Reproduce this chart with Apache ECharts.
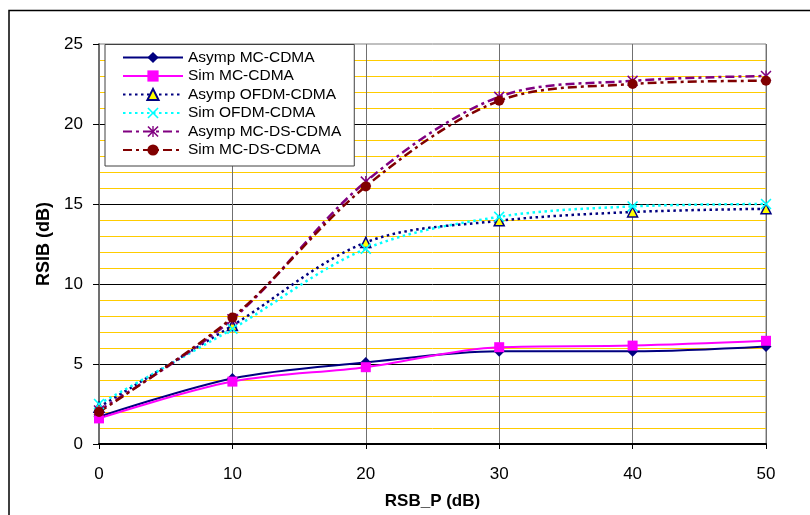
<!DOCTYPE html>
<html><head><meta charset="utf-8">
<script src="https://cdn.jsdelivr.net/npm/echarts@6/dist/echarts.min.js"></script>
<style>html,body{margin:0;padding:0;background:#fff}#c{width:810px;height:515px}</style>
</head><body><div id="c"></div>
<script>
const xValues = [0, 10, 20, 30, 40, 50];
const xTickLabels = ['0', '10', '20', '30', '40', '50'];
const yTickLabels = ['0', '5', '10', '15', '20', '25'];
const seriesNames = ['Asymp MC-CDMA', 'Sim MC-CDMA', 'Asymp OFDM-CDMA', 'Sim OFDM-CDMA', 'Asymp MC-DS-CDMA', 'Sim MC-DS-CDMA'];
const asympMC = [1.7, 4.1, 5.1, 5.8, 5.8, 6.1];
const simMC = [1.6, 3.9, 4.8, 6.05, 6.15, 6.45];
const asympOFDM = [2.3, 7.4, 12.6, 13.95, 14.5, 14.7];
const simOFDM = [2.5, 7.2, 12.2, 14.2, 14.85, 15.0];
const asympDS = [2.1, 7.8, 16.4, 21.7, 22.7, 23.0];
const simDS = [2.0, 7.9, 16.1, 21.45, 22.5, 22.7];

const FONT = '"Liberation Sans", Arial, sans-serif';
const X_SYM = 'path://M0,1 L1,0 L5,4 L9,0 L10,1 L6,5 L10,9 L9,10 L5,6 L1,10 L0,9 L4,5 Z';
const STAR_SYM = 'path://M0,1 L1,0 L5,4 L9,0 L10,1 L6,5 L10,9 L9,10 L5,6 L1,10 L0,9 L4,5 Z M4.4,0 L5.6,0 L5.6,10 L4.4,10 Z';

function pairs(ys) { return xValues.map((x, i) => [x, ys[i]]); }

function mk(name, ys, color, lineType, width, symbol, size, itemStyle) {
  return {
    name: name, type: 'line', data: pairs(ys),
    smooth: 0.33, showAllSymbol: true,
    symbol: symbol, symbolSize: size,
    lineStyle: { color: color, width: width, type: lineType },
    itemStyle: itemStyle || { color: color },
    emphasis: { disabled: true }
  };
}

const chart = echarts.init(document.getElementById('c'), null, { renderer: 'canvas' });
chart.setOption({
  animation: false,
  backgroundColor: '#ffffff',
  graphic: [{
    type: 'rect', silent: true, z: 100,
    shape: { x: 9, y: 10.5, width: 1000, height: 1000 },
    style: { fill: 'none', stroke: '#000', lineWidth: 1.5 }
  }],
  grid: { left: 99, right: 44, top: 44, bottom: 70, show: true, borderColor: '#808080', borderWidth: 1 },
  legend: {
    orient: 'vertical', left: 105, top: 44.5,
    padding: [5, 13, 8, 17],
    backgroundColor: '#fff', borderColor: '#404040', borderWidth: 1,
    itemWidth: 60, itemHeight: 14, itemGap: 2.5,
    align: 'left',
    textStyle: { fontFamily: FONT, fontSize: 15.5, color: '#000', lineHeight: 16 },
    data: seriesNames
  },
  xAxis: {
    type: 'value', min: 0, max: 50, interval: 10,
    name: 'RSB_P (dB)', nameLocation: 'middle', nameGap: 49,
    nameTextStyle: { fontFamily: FONT, fontSize: 17, fontWeight: 'bold', color: '#000' },
    axisLine: { show: true, onZero: false, lineStyle: { color: '#000', width: 2 } },
    axisTick: { show: true, length: 5, lineStyle: { color: '#000', width: 1 } },
    axisLabel: { margin: 22, fontFamily: FONT, fontSize: 17, color: '#000',
      formatter: v => xTickLabels[xValues.indexOf(v)] },
    splitLine: { show: true, showMinLine: false, lineStyle: { color: '#707070', width: 1 } }
  },
  yAxis: {
    type: 'value', min: 0, max: 25, interval: 5,
    name: 'RSIB (dB)', nameLocation: 'middle', nameGap: 46,
    nameTextStyle: { fontFamily: FONT, fontSize: 18, fontWeight: 'bold', color: '#000' },
    axisLine: { show: true, lineStyle: { color: '#707070', width: 2 } },
    axisTick: { show: true, length: 6, lineStyle: { color: '#000', width: 1 } },
    axisLabel: { margin: 16, fontFamily: FONT, fontSize: 17, color: '#000',
      formatter: v => yTickLabels[v / 5] },
    splitLine: { show: true, showMinLine: false, showMaxLine: false, lineStyle: { color: '#000', width: 1 } },
    minorTick: { show: false, splitNumber: 5 },
    minorSplitLine: { show: true, lineStyle: { color: '#FFCC00', width: 1 } }
  },
  series: [
    mk(seriesNames[0], asympMC, '#000080', 'solid', 2, 'diamond', 11),
    mk(seriesNames[1], simMC, '#FF00FF', 'solid', 2, 'rect', 10),
    mk(seriesNames[2], asympOFDM, '#000080', [2.5, 3.5], 2.5, 'triangle', 10,
      { color: '#FFFF00', borderColor: '#000080', borderWidth: 1.5 }),
    mk(seriesNames[3], simOFDM, '#00FFFF', [2.5, 3.5], 2.5, X_SYM, 11),
    mk(seriesNames[4], asympDS, '#800080', [9, 4, 3, 4], 2.5, STAR_SYM, 11),
    mk(seriesNames[5], simDS, '#800000', [9, 4, 3, 4], 2.5, 'circle', 10)
  ]
});
</script></body></html>
